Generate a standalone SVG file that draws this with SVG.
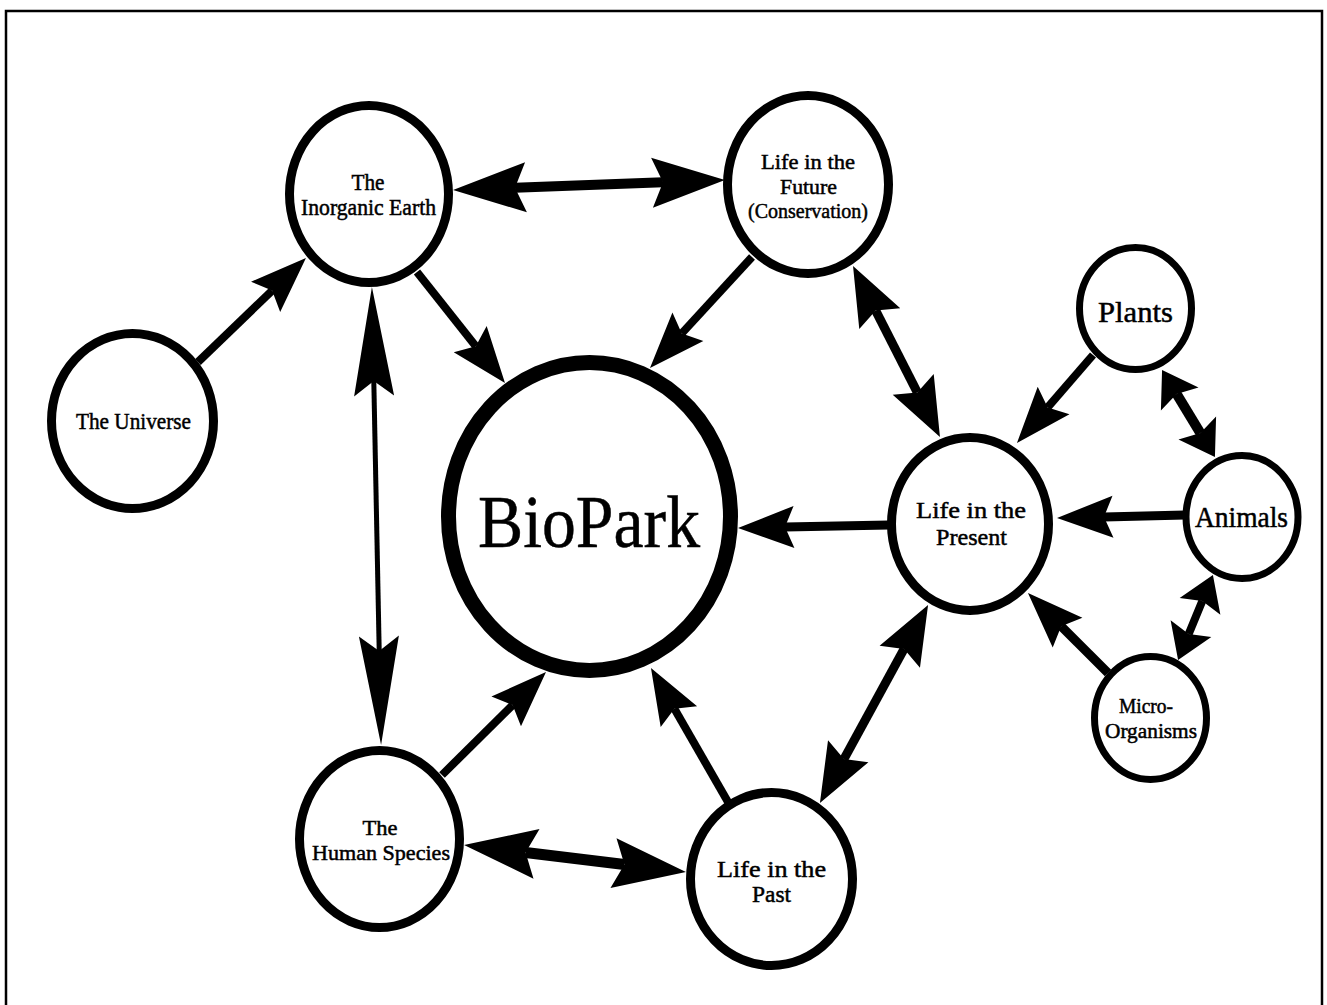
<svg xmlns="http://www.w3.org/2000/svg" width="1327" height="1005" viewBox="0 0 1327 1005">
<style>
.frame{fill:none;stroke:#000;stroke-width:2.5}
.node{fill:#fff;stroke:#000;stroke-width:9}
.small{stroke-width:7}
.hub{stroke-width:15}
.lbl{font-family:"Liberation Serif","Times New Roman",serif;fill:#000;stroke:#000;stroke-width:0.5;text-anchor:middle}
.edge{stroke:#000;fill:none;stroke-linecap:butt}
.head{fill:#000;stroke:none}
</style>
<defs>
<marker id="m-std" markerUnits="userSpaceOnUse" orient="auto-start-reverse" overflow="visible" markerWidth="1" markerHeight="1" refX="0" refY="0"><path class="head" d="M47,0 L-9,21 L0,0 L-9,-21 Z"/></marker>
<marker id="m-mid" markerUnits="userSpaceOnUse" orient="auto-start-reverse" overflow="visible" markerWidth="1" markerHeight="1" refX="0" refY="0"><path class="head" d="M50,0 L-9,23 L0,0 L-9,-23 Z"/></marker>
<marker id="m-big" markerUnits="userSpaceOnUse" orient="auto-start-reverse" overflow="visible" markerWidth="1" markerHeight="1" refX="0" refY="0"><path class="head" d="M62,0 L-11,25 L0,0 L-11,-25 Z"/></marker>
<marker id="m-long" markerUnits="userSpaceOnUse" orient="auto-start-reverse" overflow="visible" markerWidth="1" markerHeight="1" refX="0" refY="0"><path class="head" d="M94,0 L-15,20 L0,0 L-15,-20 Z"/></marker>
<marker id="m-short" markerUnits="userSpaceOnUse" orient="auto-start-reverse" overflow="visible" markerWidth="1" markerHeight="1" refX="0" refY="0"><path class="head" d="M28,0 L-6,22 L0,0 L-6,-22 Z"/></marker>
</defs>
<rect width="1327" height="1005" fill="#fff"/>
<rect class="frame" x="6" y="11" width="1316" height="1010"/>
<g id="connectors">
<line class="edge" stroke-width="8" x1="198" y1="362" x2="272.1" y2="290.6" marker-end="url(#m-std)"/>
<line class="edge" stroke-width="8" x1="417" y1="272" x2="475.8" y2="346.2" marker-end="url(#m-std)"/>
<line class="edge" stroke-width="8" x1="752" y1="257" x2="681.8" y2="333.4" marker-end="url(#m-std)"/>
<line class="edge" stroke-width="10" x1="515" y1="187.7" x2="663" y2="182.3" marker-start="url(#m-big)" marker-end="url(#m-big)"/>
<line class="edge" stroke-width="5" x1="373.8" y1="381" x2="379.2" y2="651" marker-start="url(#m-long)" marker-end="url(#m-long)"/>
<line class="edge" stroke-width="9" x1="875.7" y1="310.6" x2="917.3" y2="392.4" marker-start="url(#m-mid)" marker-end="url(#m-mid)"/>
<line class="edge" stroke-width="8" x1="1093" y1="355" x2="1047.7" y2="407.4" marker-end="url(#m-std)"/>
<line class="edge" stroke-width="10" x1="1176.6" y1="393.9" x2="1200.4" y2="433.1" marker-start="url(#m-short)" marker-end="url(#m-short)"/>
<line class="edge" stroke-width="9" x1="1185" y1="515" x2="1104" y2="516.9" marker-end="url(#m-std)"/>
<line class="edge" stroke-width="8" x1="1202.3" y1="600.9" x2="1188.7" y2="634.1" marker-start="url(#m-short)" marker-end="url(#m-short)"/>
<line class="edge" stroke-width="9" x1="1108" y1="673" x2="1061.2" y2="626.2" marker-end="url(#m-std)"/>
<line class="edge" stroke-width="9" x1="904.1" y1="648.9" x2="843.9" y2="759.1" marker-start="url(#m-mid)" marker-end="url(#m-mid)"/>
<line class="edge" stroke-width="8" x1="728" y1="802" x2="674.4" y2="708.8" marker-end="url(#m-std)"/>
<line class="edge" stroke-width="9" x1="889" y1="525" x2="785" y2="527.1" marker-end="url(#m-std)"/>
<line class="edge" stroke-width="8" x1="442" y1="775" x2="512.6" y2="705.1" marker-end="url(#m-std)"/>
<line class="edge" stroke-width="11" x1="525.6" y1="852.5" x2="624.4" y2="864.5" marker-start="url(#m-big)" marker-end="url(#m-big)"/>
</g>
<g id="node-inorganic-earth">
<ellipse class="node" cx="369" cy="194" rx="79.5" ry="88.5"/>
<text class="lbl" font-size="23" x="368" y="190" textLength="33" lengthAdjust="spacingAndGlyphs">The</text>
<text class="lbl" font-size="23" x="368.5" y="215" textLength="135" lengthAdjust="spacingAndGlyphs">Inorganic Earth</text>
</g>
<g id="node-future">
<ellipse class="node" cx="808" cy="184.5" rx="80.5" ry="89"/>
<text class="lbl" font-size="22" x="808" y="169" textLength="94" lengthAdjust="spacingAndGlyphs">Life in the</text>
<text class="lbl" font-size="22" x="808.5" y="194" textLength="57" lengthAdjust="spacingAndGlyphs">Future</text>
<text class="lbl" font-size="22" x="808" y="218" textLength="120" lengthAdjust="spacingAndGlyphs">(Conservation)</text>
</g>
<g id="node-universe">
<ellipse class="node" cx="132.5" cy="421" rx="81" ry="87.5"/>
<text class="lbl" font-size="24" x="133.5" y="429" textLength="115" lengthAdjust="spacingAndGlyphs">The Universe</text>
</g>
<g id="node-biopark">
<ellipse class="node hub" cx="589.5" cy="516.5" rx="141" ry="154"/>
<text class="lbl" font-size="74" x="589" y="547" textLength="222" lengthAdjust="spacingAndGlyphs" stroke-width="0">BioPark</text>
</g>
<g id="node-present">
<ellipse class="node" cx="970" cy="524" rx="78.5" ry="86.5"/>
<text class="lbl" font-size="24" x="971" y="518" textLength="110" lengthAdjust="spacingAndGlyphs">Life in the</text>
<text class="lbl" font-size="24" x="971.5" y="545" textLength="71" lengthAdjust="spacingAndGlyphs">Present</text>
</g>
<g id="node-plants">
<ellipse class="node small" cx="1135.5" cy="308.5" rx="56" ry="61"/>
<text class="lbl" font-size="30" x="1135.5" y="322" textLength="75" lengthAdjust="spacingAndGlyphs">Plants</text>
</g>
<g id="node-animals">
<ellipse class="node small" cx="1242" cy="517" rx="56" ry="61.5"/>
<text class="lbl" font-size="29" x="1241.5" y="527" textLength="93" lengthAdjust="spacingAndGlyphs">Animals</text>
</g>
<g id="node-micro">
<ellipse class="node small" cx="1150.5" cy="718" rx="56" ry="61.5"/>
<text class="lbl" font-size="21" x="1146" y="713" textLength="54" lengthAdjust="spacingAndGlyphs">Micro-</text>
<text class="lbl" font-size="21" x="1151" y="738" textLength="92" lengthAdjust="spacingAndGlyphs">Organisms</text>
</g>
<g id="node-human">
<ellipse class="node" cx="379.5" cy="839" rx="80" ry="88.5"/>
<text class="lbl" font-size="22" x="380" y="835" textLength="35" lengthAdjust="spacingAndGlyphs">The</text>
<text class="lbl" font-size="22" x="381" y="860" textLength="138" lengthAdjust="spacingAndGlyphs">Human Species</text>
</g>
<g id="node-past">
<ellipse class="node" cx="771.5" cy="879" rx="81" ry="86.5"/>
<text class="lbl" font-size="24" x="771.5" y="877" textLength="109" lengthAdjust="spacingAndGlyphs">Life in the</text>
<text class="lbl" font-size="24" x="771.5" y="902" textLength="39" lengthAdjust="spacingAndGlyphs">Past</text>
</g>
</svg>
